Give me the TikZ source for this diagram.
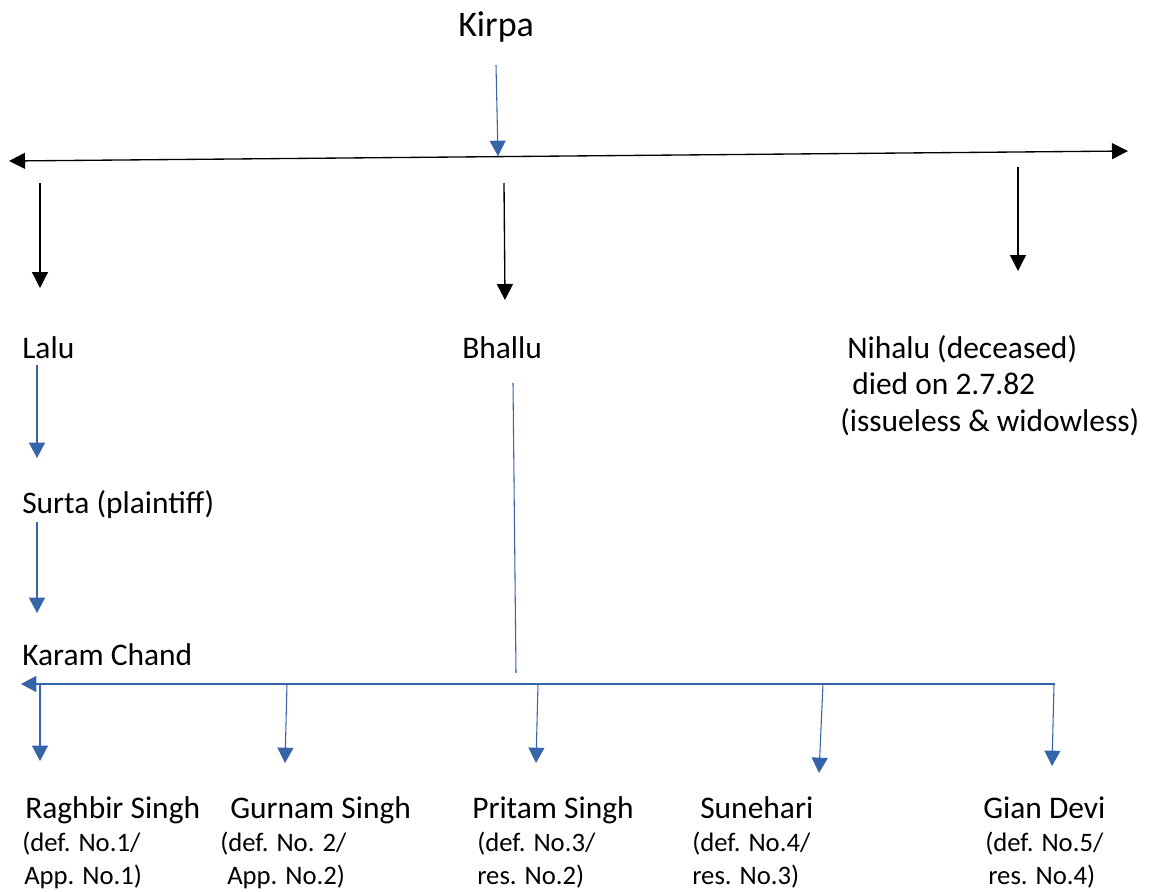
\documentclass[tikz,border=0pt]{standalone}
\usepackage{fontspec}
\setmainfont{Carlito}
\usetikzlibrary{arrows.meta}
\definecolor{lineblue}{RGB}{54,100,168}
\begin{document}
\begin{tikzpicture}[x=0.75pt,y=-0.75pt,
  lbl/.style={anchor=base west, inner sep=0pt, font=\fontsize{23.6}{28}\selectfont},
  big/.style={anchor=base west, inner sep=0pt, font=\fontsize{27}{32}\selectfont},
  sm/.style={anchor=base west, inner sep=0pt, font=\fontsize{20}{24}\selectfont},
  barr/.style={-{Triangle[length=12pt,width=12pt]}, line width=1pt, black},
  bbarr/.style={{Triangle[length=12pt,width=12pt]}-{Triangle[length=12pt,width=12pt]}, line width=1pt, black},
  blarr/.style={-{Triangle[length=11.5pt,width=12pt]}, line width=0.8pt, lineblue},
  blline/.style={line width=0.8pt, lineblue}]
\path[use as bounding box, fill=white] (0,0) rectangle (1157,892);

% texts
\node[big] (kirpa) at (458,37) {Kirpa};
\node[lbl] (lalu) at (22,358) {Lalu};
\node[lbl] (bhallu) at (462,358) {Bhallu};
\node[lbl] (nihalu) at (847,358) {Nihalu (deceased)};
\node[lbl] (died) at (852,394) {died on 2.7.82};
\node[lbl] (issue) at (840,431) {(issueless \& widowless)};
\node[lbl] (surta) at (22,513) {Surta (plaintiff)};
\node[lbl] (karam) at (22,665) {Karam Chand};

\node[lbl] (raghbir) at (25,818) {Raghbir Singh};
\node[sm] (r1) at (22,851) {(def. No.1/};
\node[sm] (r2) at (24,884) {App. No.1)};
\node[lbl] (gurnam) at (230,818) {Gurnam Singh};
\node[sm] (g1) at (220,851) {(def. No. 2/};
\node[sm] (g2) at (227,884) {App. No.2)};
\node[lbl] (pritam) at (472,818) {Pritam Singh};
\node[sm] (p1) at (477,851) {(def. No.3/};
\node[sm] (p2) at (477,884) {res. No.2)};
\node[lbl] (sunehari) at (700,818) {Sunehari};
\node[sm] (s1) at (692,851) {(def. No.4/};
\node[sm] (s2) at (692,884) {res. No.3)};
\node[lbl] (gian) at (983,818) {Gian Devi};
\node[sm] (d1) at (985,851) {(def. No.5/};
\node[sm] (d2) at (988,884) {res. No.4)};

% coordinates
\coordinate (kA) at (496,65);  \coordinate (kB) at (498,156);
\coordinate (hL) at (9,161);  \coordinate (hR) at (1128,151);
\coordinate (a1s) at (40,183);  \coordinate (a1e) at (40,288);
\coordinate (a2s) at (504,183); \coordinate (a2e) at (505,300);
\coordinate (a3s) at (1018,167); \coordinate (a3e) at (1018,271);
\coordinate (l1s) at (37,365); \coordinate (l1e) at (37,458);
\coordinate (l2s) at (37,522); \coordinate (l2e) at (37,613);
\coordinate (bs) at (513,383); \coordinate (be) at (516,673);
\coordinate (kR) at (1055,684); \coordinate (kL) at (21,684);
\coordinate (c1s) at (40,684);  \coordinate (c1e) at (40,761);
\coordinate (c2s) at (287,684); \coordinate (c2e) at (285,763);
\coordinate (c3s) at (538,684); \coordinate (c3e) at (536,763);
\coordinate (c4s) at (823,684); \coordinate (c4e) at (819,773);
\coordinate (c5s) at (1054,684); \coordinate (c5e) at (1052,766);

% connectors
\draw[blarr] (kA) -- (kB);
\draw[bbarr] (hL) -- (hR);
\draw[barr] (a1s) -- (a1e);
\draw[barr] (a2s) -- (a2e);
\draw[barr] (a3s) -- (a3e);
\draw[blarr] (l1s) -- (l1e);
\draw[blarr] (l2s) -- (l2e);
\draw[blline] (bs) -- (be);
\draw[blarr] (kR) -- (kL);
\draw[blarr] (c1s) -- (c1e);
\draw[blarr] (c2s) -- (c2e);
\draw[blarr] (c3s) -- (c3e);
\draw[blarr] (c4s) -- (c4e);
\draw[blarr] (c5s) -- (c5e);
\end{tikzpicture}
\end{document}
